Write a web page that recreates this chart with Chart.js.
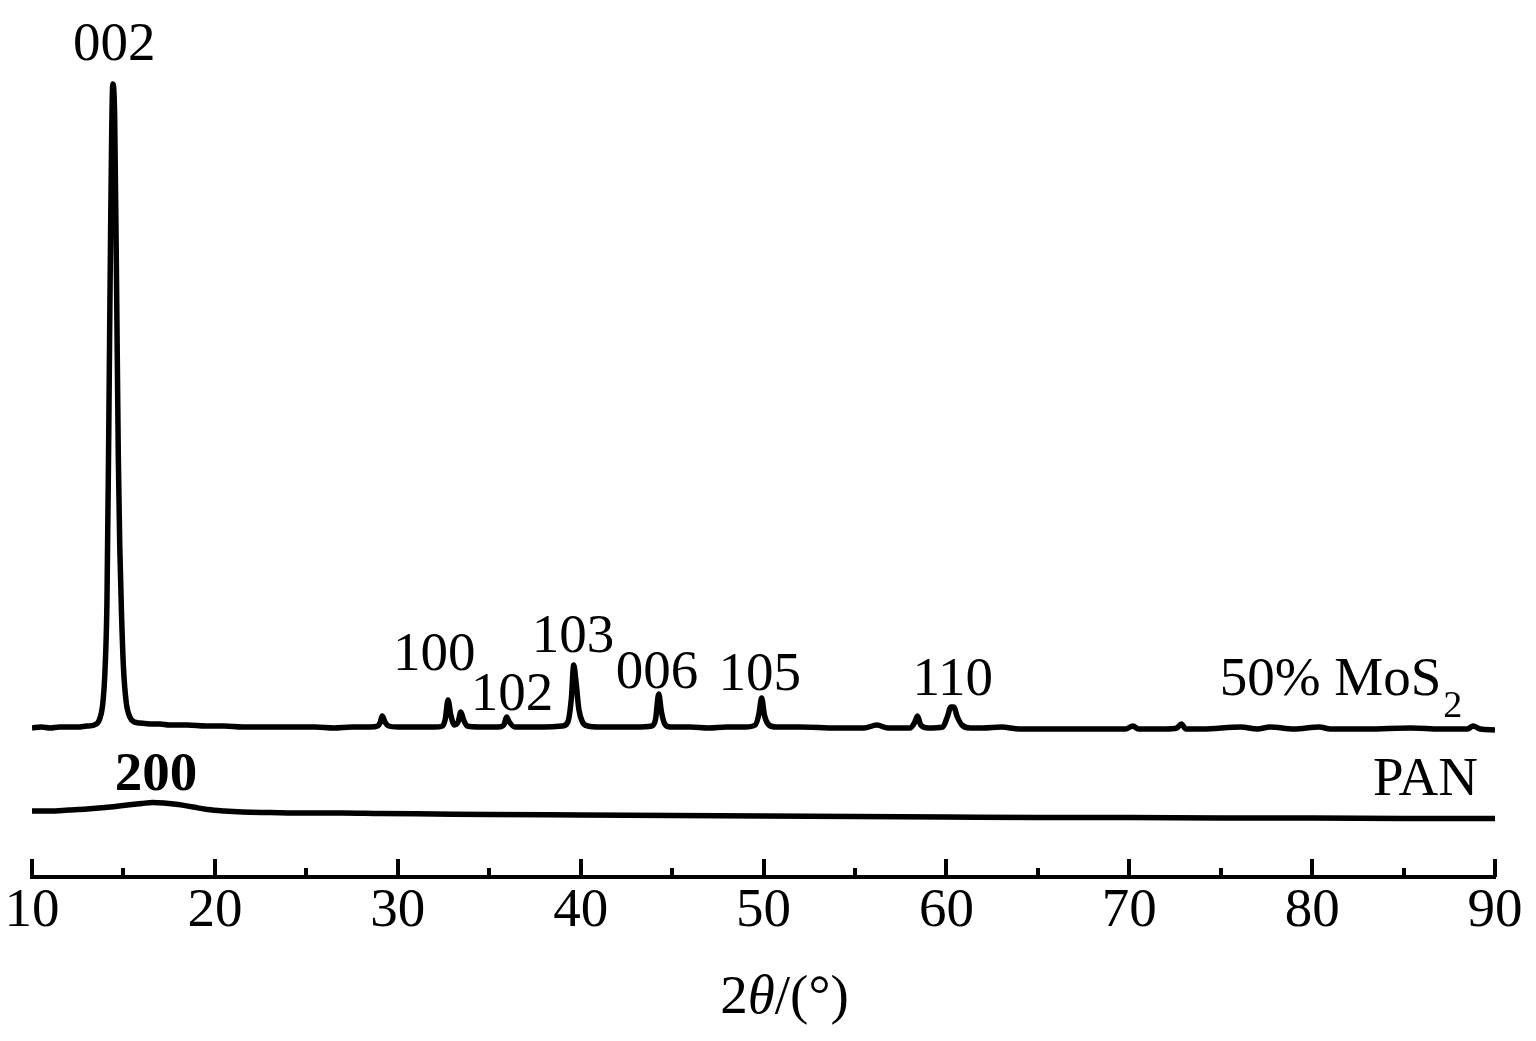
<!DOCTYPE html>
<html>
<head>
<meta charset="utf-8">
<script src="https://cdn.jsdelivr.net/npm/chart.js@4.4.1/dist/chart.umd.min.js"></script>
<style>
  html, body { margin: 0; padding: 0; background: #ffffff; }
  #wrap { width: 1536px; height: 1041px; position: relative; }
</style>
</head>
<body>
<div id="wrap"><canvas id="c" width="1536" height="1041"></canvas></div>
<script>
// ---- data (2θ in degrees, intensity in arbitrary units, curves offset) ----
const mos2Angles = [10.0,10.5,11.0,11.5,12.0,12.5,13.0,13.4,13.7,13.88,14.0,14.1,14.2,14.3,14.42,14.52,14.62,14.72,14.8,14.9,15.0,15.15,15.35,15.6,15.9,16.5,17.0,17.5,18.5,19.5,20.5,21.5,22.5,23.5,24.5,25.5,26.5,27.5,28.5,28.9,29.05,29.15,29.3,29.5,30.0,31.0,32.0,32.45,32.6,32.75,32.9,33.1,33.3,33.45,33.6,33.8,34.5,35.5,35.8,35.95,36.1,36.4,37.0,38.0,39.0,39.3,39.5,39.62,39.75,39.9,40.1,40.4,41,42,43,43.9,44.1,44.27,44.42,44.6,44.9,46,47,48,49,49.55,49.75,49.9,50.05,50.3,50.7,52,54,55.5,56.2,56.8,58.0,58.25,58.42,58.6,59.0,59.8,60.05,60.25,60.4,60.6,60.85,61.3,62,63.0,64,66,68,69.8,70.2,70.5,72.0,72.6,72.85,73.1,74,76.1,77,77.7,79,80.4,81,83,85.4,87,88.5,88.8,89.2,90];
const mos2Intensity = [149,150,149,150,150,150,151,152,158,175,210,277,450,650,793,760,600,420,330,260,210,175,160,155,154,153,153,152,152,151,151,150,150,150,150,150,149,150,150,151,155,161,155,151,150,150,150,151,158,177,162,152,155,165,157,151,150,150,152,160,155,150,150,150,151,155,180,212,195,168,155,151,150,150,150,151,158,183,165,153,150,150,149,150,150,152,163,179,162,152,150,150,149,149,152,149,149,154,161,152,149,150,160,170,170,160,152,149,149,150,148,148,148,148,151,148,148,149,153,148,148,150,148,150,148,150,148,148,149,148,148,151,148,147];

const panAngles = [10,11,12,13,14,15,16,16.6,17.2,18,18.8,19.6,20.5,21.5,23,25,27,29,32,35,40,45,50,55,60,65,70,75,80,85,90];
const panIntensity = [66,66,67,68,69.5,71.5,73.5,74.5,74,72.5,70,67.5,66,65,64.5,64,64,63.5,63,62.5,62,61.5,61,60.5,60,59.5,59.5,59,59,58.5,58.5];

const xTickValues = [10,20,30,40,50,60,70,80,90];

// peak (hkl) labels: text, 2θ centre, baseline level
const peakLabels = ['002','100','102','103','006','105','110'];
const peakLabelAngles = [14.5,32.0,36.25,39.58,44.17,49.8,60.35];
const peakLabelLevels = [817,207,167,225,189,187,182];

const seriesNames = ['50% MoS', 'PAN'];

// ---- build ----
const toXY = (xs, ys) => xs.map((x, i) => ({x: x, y: ys[i]}));
const FONT = '"Liberation Serif", "Times New Roman", serif';

const annotate = {
  id: 'annotate',
  afterDraw(chart) {
    const ctx = chart.ctx;
    const xs = chart.scales.x, ys = chart.scales.y;
    const area = chart.chartArea;
    ctx.save();
    // inward tick marks
    ctx.strokeStyle = '#000';
    ctx.lineWidth = 4;
    xs.ticks.forEach(t => {
      const px = Math.round(xs.getPixelForValue(t.value));
      const len = (t.value % 10 === 0) ? 18 : 9;
      ctx.beginPath();
      ctx.moveTo(px, area.bottom);
      ctx.lineTo(px, area.bottom - len);
      ctx.stroke();
    });
    // peak labels
    ctx.fillStyle = '#000';
    ctx.textBaseline = 'alphabetic';
    ctx.textAlign = 'center';
    ctx.font = '55px ' + FONT;
    peakLabels.forEach((s, i) => {
      ctx.fillText(s, xs.getPixelForValue(peakLabelAngles[i]), ys.getPixelForValue(peakLabelLevels[i]));
    });
    // PAN 200 label (bold)
    ctx.font = 'bold 55px ' + FONT;
    ctx.fillText('200', xs.getPixelForValue(16.78), ys.getPixelForValue(87));
    // series names
    ctx.font = '55px ' + FONT;
    ctx.textAlign = 'left';
    const mx = xs.getPixelForValue(74.95), my = ys.getPixelForValue(182);
    ctx.fillText(seriesNames[0], mx, my);
    const w = ctx.measureText(seriesNames[0]).width;
    ctx.font = '38px ' + FONT;
    ctx.fillText('2', mx + w + 2, ys.getPixelForValue(160));
    ctx.font = '55px ' + FONT;
    ctx.textAlign = 'right';
    ctx.fillText(seriesNames[1], xs.getPixelForValue(89.07), ys.getPixelForValue(82));
    // axis title 2θ/(°)
    ctx.textAlign = 'left';
    const parts = [['2', ''], ['θ', 'italic '], ['/(°)', '']];
    let total = 0;
    parts.forEach(p => { ctx.font = p[1] + '55px ' + FONT; total += ctx.measureText(p[0]).width; });
    let tx = xs.getPixelForValue(50) + 21 - total / 2;
    const ty = area.bottom + 136;
    parts.forEach(p => {
      ctx.font = p[1] + '55px ' + FONT;
      ctx.fillText(p[0], tx, ty);
      tx += ctx.measureText(p[0]).width;
    });
    ctx.restore();
  }
};

new Chart(document.getElementById('c'), {
  type: 'line',
  data: {
    datasets: [
      { label: '50% MoS2', data: toXY(mos2Angles, mos2Intensity), borderColor: '#000', borderWidth: 5.5,
        pointRadius: 0, cubicInterpolationMode: 'monotone', fill: false },
      { label: 'PAN', data: toXY(panAngles, panIntensity), borderColor: '#000', borderWidth: 5.5,
        pointRadius: 0, cubicInterpolationMode: 'monotone', fill: false }
    ]
  },
  options: {
    responsive: false,
    animation: false,
    devicePixelRatio: 1,
    layout: { padding: { left: 32, right: 41, top: 77, bottom: 0 } },
    plugins: { legend: { display: false }, tooltip: { enabled: false } },
    scales: {
      x: {
        type: 'linear', min: 10, max: 90,
        afterFit: (s) => { s.height = 164; },
        grid: { drawOnChartArea: false, drawTicks: false },
        border: { display: true, width: 4, color: '#000' },
        ticks: {
          stepSize: 5, autoSkip: false, maxRotation: 0, padding: 2,
          color: '#000', font: { family: FONT, size: 55 },
          callback: (v) => (xTickValues.includes(v) ? String(v) : '')
        }
      },
      y: { display: false, min: 0, max: 800 }
    }
  },
  plugins: [annotate]
});
</script>
</body>
</html>
